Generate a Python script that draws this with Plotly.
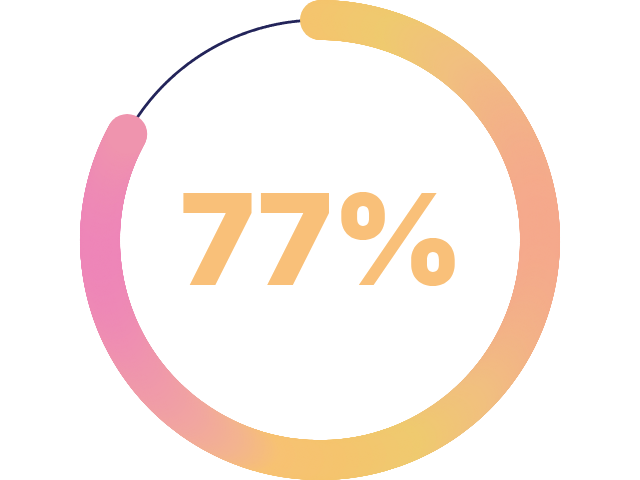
import numpy as np
import plotly.graph_objects as go

# what the chart says and how much of the ring is filled
label_value = 77
filled_share = 0.83  # drawn arc, clockwise from 12 o'clock

ring_radius = 220
ring_width_px = 40

# horizontal gradient of the filled arc: left -> right
gradient_pos = [0.0, 0.068, 0.182, 0.273, 0.364, 0.5, 0.682, 0.841, 0.955, 1.0]
gradient_col = ["#EE86B8", "#EF95AD", "#F1A6A0", "#F3B48F", "#F7C273",
                "#F5C46E", "#EFCA6F", "#F1BF80", "#F3B089", "#F5A98C"]

end_deg = 360 * filled_share
theta_fill = np.linspace(0, end_deg, 1400)
theta_rest = np.linspace(end_deg, 360, 300)
# colour each dot by its horizontal position so the gradient runs left to right
x_pos = np.sin(np.radians(theta_fill))

fig = go.Figure()
fig.add_trace(go.Scatterpolar(
    r=[ring_radius] * len(theta_rest),
    theta=theta_rest,
    mode="lines",
    line=dict(color="#23245A", width=2.8),
    hoverinfo="skip",
))
fig.add_trace(go.Scatterpolar(
    r=[ring_radius] * len(theta_fill),
    theta=theta_fill,
    mode="markers",
    marker=dict(
        size=ring_width_px,
        color=x_pos,
        cmin=-1,
        cmax=1,
        colorscale=list(zip(gradient_pos, gradient_col)),
        line=dict(width=0),
        opacity=1,
    ),
    hoverinfo="skip",
))

fig.add_annotation(
    text=f"{label_value}%",
    x=0.5, y=0.5, xref="paper", yref="paper",
    xanchor="center", yanchor="middle",
    showarrow=False,
    font=dict(family="Inter", size=126, color="#F9C079", weight=900),
    xshift=2,
    yshift=1,
)

fig.update_layout(
    width=640,
    height=480,
    margin=dict(l=0, r=0, t=0, b=0),
    paper_bgcolor="white",
    showlegend=False,
    polar=dict(
        domain=dict(x=[0, 1], y=[0, 1]),
        bgcolor="white",
        radialaxis=dict(range=[0, 240], visible=False),
        angularaxis=dict(visible=False, rotation=90, direction="clockwise"),
    ),
)

# page has no default body margin so the ring sits flush like the original
fig.write_html(
    "out.html",
    config={"displayModeBar": False, "staticPlot": True},
    post_script="document.body.style.margin='0';",
)
